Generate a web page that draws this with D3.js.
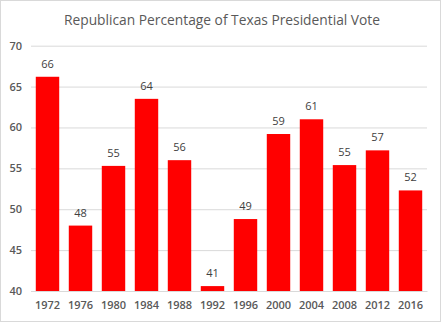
<!DOCTYPE html>
<html><head><meta charset="utf-8">
<script src="https://cdn.jsdelivr.net/npm/d3@7"></script>
<style>body{margin:0;background:#fff}svg{display:block}</style>
</head><body>
<script>
const years = ["1972","1976","1980","1984","1988","1992","1996","2000","2004","2008","2012","2016"];
const values = [66.2,48.0,55.3,63.5,56.0,40.6,48.8,59.2,61.0,55.4,57.2,52.3];
const yTicks = [40,45,50,55,60,65,70];
const title = "Republican Percentage of Texas Presidential Vote";

const W=441,H=322;
const font="'Open Sans', sans-serif";
const svg=d3.select("body").append("svg").attr("width",W).attr("height",H);
svg.append("rect").attr("x",0.5).attr("y",0.5).attr("width",W-1).attr("height",H-1).attr("fill","#fff").attr("stroke","#d9d9d9");

const x=d3.scaleBand().domain(years).range([31,427]).paddingInner(0.29).paddingOuter(0.145);
const y=d3.scaleLinear().domain([40,70]).range([291,45.7]);

svg.append("text").attr("x",222).attr("y",25).attr("text-anchor","middle")
 .attr("font-family",font).attr("font-size",14).attr("fill","#595959")
 .attr("textLength",316).attr("lengthAdjust","spacingAndGlyphs").text(title);

const ya=svg.append("g").attr("transform","translate(31,0)")
 .call(d3.axisLeft(y).tickValues(yTicks).tickSize(-396).tickPadding(9));
ya.select(".domain").remove();
ya.selectAll("line").attr("stroke","#d9d9d9");
ya.selectAll("text").attr("font-family",font).attr("font-size",11).attr("fill","#595959").attr("font-weight",600);

svg.selectAll("rect.bar").data(values).join("rect").attr("class","bar")
 .attr("x",(d,i)=>x(years[i])).attr("width",x.bandwidth())
 .attr("y",d=>y(d)).attr("height",d=>y(40)-y(d)).attr("fill","#ff0000");

const xa=svg.append("g").attr("transform","translate(0,291)")
 .call(d3.axisBottom(x).tickSize(0).tickPadding(10));
xa.select(".domain").attr("stroke","#d9d9d9");
xa.selectAll("text").attr("font-family",font).attr("font-size",11).attr("fill","#595959").attr("font-weight",600);

svg.selectAll("text.lbl").data(values).join("text").attr("class","lbl")
 .attr("x",(d,i)=>x(years[i])+x.bandwidth()/2).attr("y",d=>y(d)-9)
 .attr("text-anchor","middle").attr("font-family",font).attr("font-size",11).attr("fill","#404040")
 .text(d=>Math.round(d));
</script>
</body></html>
